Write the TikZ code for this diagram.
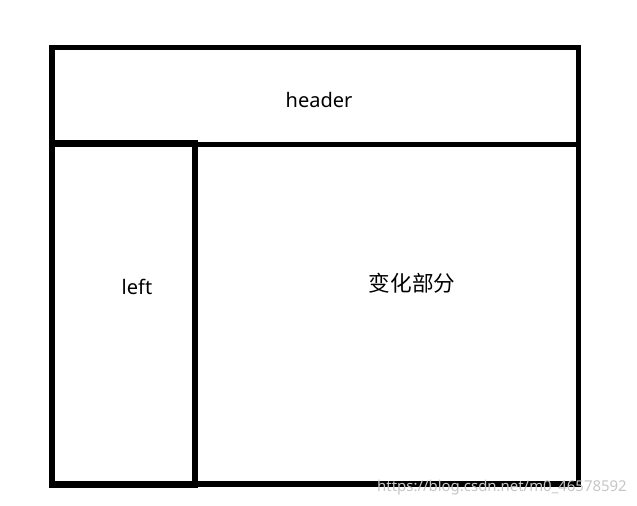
\documentclass[tikz,border=0pt]{standalone}
\usepackage{fontspec}
\setmainfont{Noto Sans}
\newfontfamily\cjk{Noto Sans CJK SC}
\usepackage{tikz}

\begin{document}
\begin{tikzpicture}[x=0.75pt, y=-0.75pt]
\tikzstyle{frame}=[draw=black, line width=3.8pt]
\tikzstyle{side}=[draw=black, line width=4.5pt]
\tikzstyle{label_txt}=[font=\fontsize{15}{18}\selectfont, inner sep=0pt]
\tikzstyle{mark_txt}=[font=\fontsize{11.2}{13}\selectfont, text=gray!45, inner sep=0pt]
%
\useasboundingbox (0,0) rectangle (637,506);

% outer frame and header
\draw [frame] (52,47.5) rectangle (578.5,484);
\draw [frame] (52,144.5) -- (578.5,144.5);
% left column
\draw [side] (51.5,143.5) rectangle (194.5,485);

\node [label_txt] (header) at (319,100) {header};
\node [label_txt] (left) at (137,287) {left};
\node [label_txt, font=\fontsize{16.2}{19}\selectfont] (main) at (412,283) {\cjk 变化部分};
\node [mark_txt, anchor=east] (mark) at (627,488) {https://blog.csdn.net/m0\_46578592};
%
\end{tikzpicture}
\end{document}
